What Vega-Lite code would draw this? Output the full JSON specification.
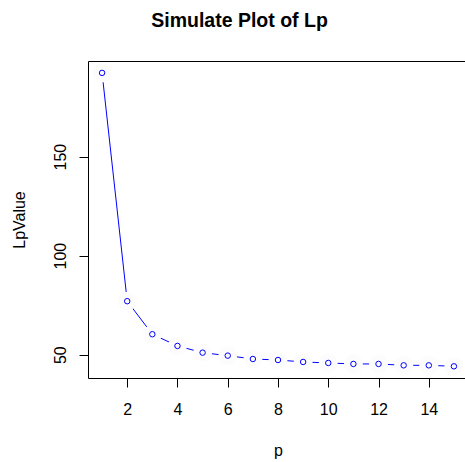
{
  "$schema": "https://vega.github.io/schema/vega-lite/v6.json",
  "width": 380,
  "height": 317,
  "autosize": {"type": "none"},
  "padding": {"left": 88, "top": 61, "right": 0, "bottom": 84},
  "background": "white",
  "title": {
    "text": "Simulate Plot of Lp",
    "font": "Liberation Sans",
    "fontSize": 19.5,
    "fontWeight": "bold",
    "color": "black",
    "anchor": "middle",
    "frame": "bounds",
    "offset": 30
  },
  "config": {
    "view": {"stroke": "black", "strokeWidth": 1},
    "axis": {
      "grid": false,
      "domain": false,
      "tickColor": "black",
      "tickSize": 9,
      "labelFont": "Liberation Sans",
      "labelFontSize": 16,
      "labelColor": "black",
      "titleFont": "Liberation Sans",
      "titleFontSize": 16,
      "titleFontWeight": "normal",
      "titleColor": "black"
    }
  },
  "data": {
    "values": [
      {"p": 1, "LpValue": 192.3},
      {"p": 2, "LpValue": 77.0},
      {"p": 3, "LpValue": 60.3},
      {"p": 4, "LpValue": 54.4},
      {"p": 5, "LpValue": 51.0},
      {"p": 6, "LpValue": 49.5},
      {"p": 7, "LpValue": 47.8},
      {"p": 8, "LpValue": 47.3},
      {"p": 9, "LpValue": 46.3},
      {"p": 10, "LpValue": 45.8},
      {"p": 11, "LpValue": 45.3},
      {"p": 12, "LpValue": 45.3},
      {"p": 13, "LpValue": 44.6},
      {"p": 14, "LpValue": 44.6},
      {"p": 15, "LpValue": 44.1}
    ]
  },
  "layer": [
    {
      "mark": {"type": "line", "stroke": "#0000ff", "strokeWidth": 1},
      "encoding": {
        "x": {
          "field": "p",
          "type": "quantitative",
          "scale": {"domain": [0.44, 15.56], "nice": false, "zero": false},
          "axis": {
            "values": [2, 4, 6, 8, 10, 12, 14],
            "labelPadding": 14,
            "labelBaseline": "top",
            "title": "p",
            "titleY": 77,
            "titleBaseline": "alphabetic"
          }
        },
        "y": {
          "field": "LpValue",
          "type": "quantitative",
          "scale": {"domain": [38.2, 198.3], "nice": false, "zero": false},
          "axis": {
            "values": [50, 100, 150],
            "labelAngle": -90,
            "labelAlign": "center",
            "labelBaseline": "alphabetic",
            "labelPadding": 14,
            "title": "LpValue",
            "titleX": -64,
            "titleAngle": -90,
            "titleBaseline": "alphabetic"
          }
        }
      }
    },
    {
      "mark": {"type": "circle", "color": "#fcfcfc", "opacity": 1, "size": 361},
      "encoding": {
        "x": {"field": "p", "type": "quantitative"},
        "y": {"field": "LpValue", "type": "quantitative"}
      }
    },
    {
      "mark": {"type": "point", "shape": "circle", "filled": false, "color": "#0000ff", "opacity": 1, "size": 30, "strokeWidth": 1},
      "encoding": {
        "x": {"field": "p", "type": "quantitative"},
        "y": {"field": "LpValue", "type": "quantitative"}
      }
    }
  ]
}
